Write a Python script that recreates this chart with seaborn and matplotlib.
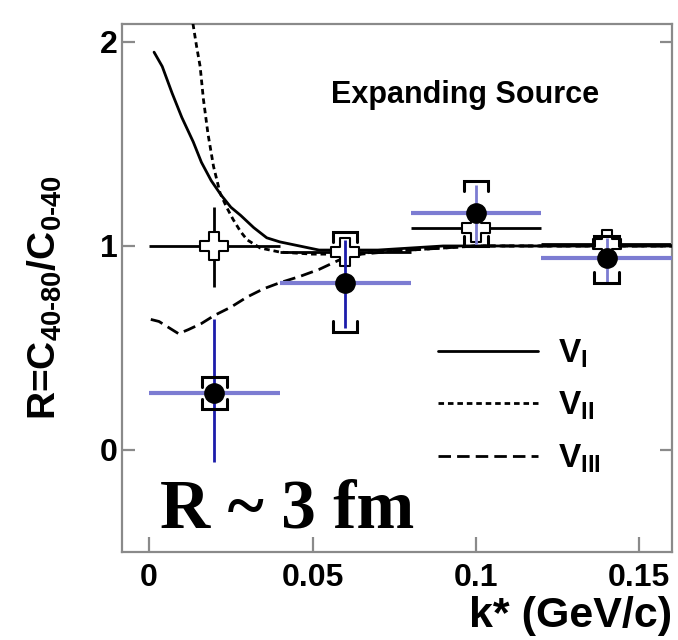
import matplotlib
matplotlib.use("Agg")
import matplotlib.pyplot as plt
import numpy as np
import pandas as pd
import seaborn as sns

# model curves
k_v1 = [0.0015, 0.004, 0.007, 0.010, 0.0135, 0.016, 0.019, 0.022, 0.025, 0.028, 0.032,
        0.036, 0.040, 0.046, 0.052, 0.060, 0.070, 0.080, 0.090, 0.100, 0.120, 0.140, 0.160]
r_v1 = [1.95, 1.88, 1.75, 1.63, 1.51, 1.41, 1.32, 1.25, 1.19, 1.15, 1.09,
        1.04, 1.02, 1.00, 0.98, 0.98, 0.98, 0.99, 1.00, 1.00, 1.00, 1.00, 1.00]

k_v2 = [0.0134, 0.0145, 0.0156, 0.0166, 0.018, 0.0197, 0.0217, 0.0237, 0.0257, 0.028, 0.030,
        0.034, 0.040, 0.050, 0.060, 0.070, 0.080, 0.090, 0.100, 0.120, 0.140, 0.160]
r_v2 = [2.09, 1.98, 1.88, 1.72, 1.55, 1.39, 1.26, 1.19, 1.13, 1.07, 1.03,
        0.99, 0.97, 0.96, 0.96, 0.97, 0.98, 0.99, 1.00, 1.00, 1.00, 1.00]

k_v3 = [0.0005, 0.003, 0.006, 0.009, 0.012, 0.016, 0.020, 0.025, 0.030, 0.035, 0.040,
        0.046, 0.052, 0.058, 0.065, 0.072, 0.080, 0.090, 0.100, 0.120, 0.140, 0.160]
r_v3 = [0.64, 0.63, 0.60, 0.57, 0.59, 0.62, 0.66, 0.70, 0.75, 0.79, 0.82,
        0.85, 0.885, 0.93, 0.96, 0.97, 0.98, 0.99, 1.00, 1.00, 1.00, 1.00]

# data points
k_pts = [0.02, 0.06, 0.10, 0.14]
k_halfbin = 0.02

r_filled = [0.28, 0.82, 1.16, 0.94]
stat_lo = [-0.06, 0.60, 1.00, 0.82]
stat_hi = [0.64, 1.03, 1.30, 1.04]
sys_lo = [0.20, 0.58, 1.00, 0.82]
sys_hi = [0.36, 1.07, 1.32, 1.05]

r_open = [1.00, 0.97, 1.09, 1.01]
open_lo = [0.80, 0.95, 1.07, 0.99]
open_hi = [1.19, 0.99, 1.11, 1.03]

sns.set_style("ticks")
plt.rcParams['font.family'] = ['Liberation Sans', 'DejaVu Sans']
plt.rcParams['font.weight'] = 'bold'
plt.rcParams['text.color'] = 'black'
plt.rcParams['axes.labelcolor'] = 'black'
plt.rcParams['mathtext.fontset'] = 'custom'
plt.rcParams['mathtext.rm'] = 'Liberation Sans:bold'
plt.rcParams['mathtext.bf'] = 'Liberation Sans:bold'
plt.rcParams['mathtext.default'] = 'bf'

light_blue = '#7c7cd2'
dark_blue = '#1c1caa'

fig = plt.figure(figsize=(6.78, 6.40), dpi=100)
ax = fig.add_axes([0.18, 0.1375, 0.811, 0.825])

curves = pd.concat([
    pd.DataFrame({'k': k_v1, 'R': r_v1, 'model': 'V$_{I}$'}),
    pd.DataFrame({'k': k_v2, 'R': r_v2, 'model': 'V$_{II}$'}),
    pd.DataFrame({'k': k_v3, 'R': r_v3, 'model': 'V$_{III}$'}),
])
styles = {'V$_{I}$': (None, None), 'V$_{II}$': (2.0, 1.4), 'V$_{III}$': (4.5, 2.2)}
for name, grp in curves.groupby('model', sort=False):
    sns.lineplot(data=grp, x='k', y='R', ax=ax, color='black', lw=2.0,
                 label=name, zorder=3, sort=False)
    if styles[name][0] is not None:
        ax.lines[-1].set_dashes(styles[name])

k_arr = np.array(k_pts)
# open crosses (black errors)
ro = np.array(r_open)
ax.errorbar(k_arr, ro, xerr=k_halfbin,
            yerr=[ro - np.array(open_lo), np.array(open_hi) - ro],
            fmt='none', ecolor='black', elinewidth=2.0, capsize=0, zorder=2)
sns.scatterplot(x=k_pts, y=r_open, ax=ax, marker='P', s=430, color='white',
                edgecolor='black', linewidth=1.5, zorder=4, legend=False)

# filled points: blue bins and stat errors
rf = np.array(r_filled)
ax.errorbar(k_arr, rf, xerr=k_halfbin, fmt='none', ecolor=light_blue,
            elinewidth=3.0, capsize=0, zorder=5)
vcols = [dark_blue, dark_blue, light_blue, light_blue]
for i in range(len(k_pts)):
    ax.errorbar([k_pts[i]], [r_filled[i]],
                yerr=[[r_filled[i] - stat_lo[i]], [stat_hi[i] - r_filled[i]]],
                fmt='none', ecolor=vcols[i], elinewidth=2.0, capsize=0, zorder=5)

# systematic brackets
cw = 0.0037
leg = 0.05
for i in range(len(k_pts)):
    x0 = k_pts[i]
    ax.plot([x0 - cw, x0 - cw, x0 + cw, x0 + cw],
            [sys_hi[i] - leg, sys_hi[i], sys_hi[i], sys_hi[i] - leg],
            color='black', lw=2.2, zorder=6, solid_joinstyle='miter')
    ax.plot([x0 - cw, x0 - cw, x0 + cw, x0 + cw],
            [sys_lo[i] + leg, sys_lo[i], sys_lo[i], sys_lo[i] + leg],
            color='black', lw=2.2, zorder=6, solid_joinstyle='miter')

sns.scatterplot(x=k_pts, y=r_filled, ax=ax, marker='o', s=190, color='black',
                edgecolor='black', zorder=7, legend=False)

ax.set_xlim(-0.0083, 0.16)
ax.set_ylim(-0.5, 2.088)
ax.set_xticks([0, 0.05, 0.1, 0.15])
ax.set_xticklabels(['0', '0.05', '0.1', '0.15'])
ax.set_yticks([0, 1, 2])
ax.set_yticklabels(['0', '1', '2'])

for s in ax.spines.values():
    s.set_color('#8a8a8a')
    s.set_linewidth(1.6)
ax.tick_params(axis='both', direction='in', colors='#8a8a8a', labelcolor='black',
               labelsize=23, width=1.6)
ax.tick_params(axis='y', length=9, pad=3, right=True)
ax.tick_params(axis='x', length=11, pad=8)

ax.set_ylabel('R=C$_{40\\text{-}80}$/C$_{0\\text{-}40}$', fontsize=28, fontweight='bold')
ax.yaxis.set_label_coords(-0.105, 0.481)
ax.set_xlabel('k* (GeV/c)', fontsize=31, fontweight='bold', loc='right', labelpad=2)

ax.text(0.0966, 1.74, 'Expanding Source', fontsize=22, fontweight='bold',
        ha='center', va='center')
ax.text(0.0034, -0.382, 'R ~ 3 fm', fontsize=50, fontweight='bold',
        family='Liberation Serif', ha='left', va='baseline')

leg_ = ax.legend(loc='upper left', bbox_to_anchor=(0.52, 0.463), frameon=False,
                 fontsize=24, handlelength=3.0, handletextpad=0.6, labelspacing=0.6)
for t in leg_.get_texts():
    t.set_fontweight('bold')

fig.savefig('out.png', dpi=100)
